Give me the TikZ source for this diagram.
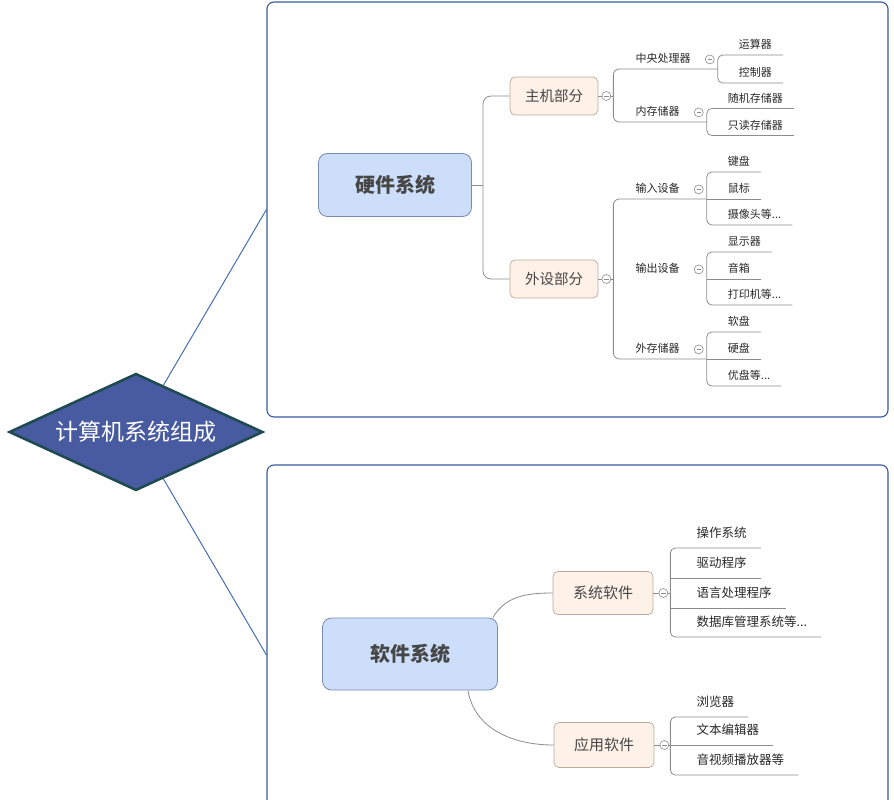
\documentclass[tikz,border=0pt]{standalone}
\usepackage{fontspec}
\setmainfont{Noto Sans CJK SC}
\usetikzlibrary{shapes.geometric}
\definecolor{linkgray}{RGB}{140,140,140}
\definecolor{framecol}{RGB}{55,90,160}
\definecolor{spokecol}{RGB}{70,110,180}
\definecolor{rootfill}{RGB}{72,90,160}
\definecolor{rootline}{RGB}{30,75,80}
\definecolor{sysfill}{RGB}{205,222,250}
\definecolor{sysline}{RGB}{120,140,175}
\definecolor{partfill}{RGB}{253,241,232}
\definecolor{partline}{RGB}{185,170,155}
\definecolor{textcol}{RGB}{40,40,40}
\definecolor{bigtext}{RGB}{70,70,70}

\begin{document}
\begin{tikzpicture}[
  x=1pt, y=-1pt,
  every node/.style={text=textcol},
  root/.style={
    diamond, aspect=2.2, draw=rootline, line width=2.5pt, fill=rootfill,
    text=white, font=\fontsize{23}{26}\selectfont,
    minimum width=254pt, minimum height=117pt, inner sep=0pt
  },
  frame/.style={draw=framecol, line width=1.1pt, rounded corners=7pt, inner sep=0pt},
  sys/.style={
    draw=sysline, line width=0.8pt, fill=sysfill, rounded corners=9pt,
    text=bigtext, font=\fontsize{20}{24}\selectfont\bfseries
  },
  part/.style={
    draw=partline, line width=0.7pt, fill=partfill, rounded corners=5pt,
    text=bigtext, font=\fontsize{14.5}{17}\selectfont
  },
  lbl/.style={
    anchor=south west, inner xsep=0pt, inner ysep=4pt,
    text height=8.8pt, text depth=2pt, font=\fontsize{11}{13}\selectfont
  },
  mid/.style={lbl, execute at begin node={\hspace*{22pt}}, execute at end node={\hspace*{27pt}}},
  leaf/.style={lbl, execute at begin node={\hspace*{21pt}}, execute at end node={\hspace*{11pt}}},
  softleaf/.style={
    anchor=south west, inner xsep=0pt, inner ysep=8pt,
    text height=10pt, text depth=2.4pt, font=\fontsize{12.5}{15}\selectfont,
    execute at begin node={\hspace*{26pt}}, execute at end node={\hspace*{14pt}}
  },
  fold/.style={
    circle, draw=linkgray, fill=white, line width=0.6pt,
    minimum size=9pt, inner sep=0pt,
    path picture={\draw[linkgray, line width=0.6pt]
      ([xshift=-2.2pt]path picture bounding box.center) --
      ([xshift=2.2pt]path picture bounding box.center);}
  },
  link/.style={draw=linkgray, line width=0.8pt},
  spoke/.style={draw=spokecol, line width=1pt},
]
\useasboundingbox (0,0) rectangle (894,800);

% ---- Frames and root ----
\node[frame, minimum width=621pt, minimum height=415pt] (hwframe) at (577.5,209.5) {};
\node[frame, minimum width=621pt, minimum height=380pt] (swframe) at (577.5,655) {};
\node[root] (root) at (136,432) {计算机系统组成};

\draw[spoke] (root) -- (hwframe.west);
\draw[spoke] (root) -- (swframe.west);

% ---- Hardware ----
\node[sys, minimum width=153pt, minimum height=63pt] (hw) at (395,185) {硬件系统};
\node[part, minimum width=88pt, minimum height=38pt] (host)   at (554,96)  {主机部分};
\node[part, minimum width=88pt, minimum height=38pt] (periph) at (554,279) {外设部分};

\node[mid] (cpu)     at ([xshift=15pt, yshift=27pt]host.east)    {中央处理器};
\node[mid] (mem)     at ([xshift=15pt, yshift=-26pt]host.east)   {内存储器};
\node[mid] (input)   at ([xshift=15pt, yshift=80pt]periph.east)  {输入设备};
\node[mid] (output)  at ([xshift=15pt]periph.east)               {输出设备};
\node[mid] (storage) at ([xshift=15pt, yshift=-80pt]periph.east) {外存储器};

\node[leaf] (alu)      at ([yshift=14pt]cpu.south east)     {运算器};
\node[leaf] (ctl)      at ([yshift=-14pt]cpu.south east)    {控制器};
\node[leaf] (ram)      at ([yshift=13.5pt]mem.south east)   {随机存储器};
\node[leaf] (rom)      at ([yshift=-13.5pt]mem.south east)  {只读存储器};
\node[leaf] (keyboard) at ([yshift=27pt]input.south east)   {键盘};
\node[leaf] (mouse)    at (input.south east)                {鼠标};
\node[leaf] (camera)   at ([yshift=-26pt]input.south east)  {摄像头等...};
\node[leaf] (screen)   at ([yshift=27pt]output.south east)  {显示器};
\node[leaf] (speaker)  at (output.south east)               {音箱};
\node[leaf] (printer)  at ([yshift=-26pt]output.south east) {打印机等...};
\node[leaf] (floppy)   at ([yshift=27pt]storage.south east) {软盘};
\node[leaf] (hdd)      at (storage.south east)              {硬盘};
\node[leaf] (udisk)    at ([yshift=-27pt]storage.south east){优盘等...};

\coordinate (hwfork) at (483,185);
\draw[link] (hw.east) -- (hwfork);
\draw[link, rounded corners=8pt] (host.west) -| (hwfork) |- (periph.west);

\draw[link] (host.east) -- (host.east -| cpu.south west);
\draw[link, rounded corners=6pt] (cpu.south east) -- (cpu.south west) |- (mem.south east);
\draw[link] (periph.east) -- (periph.east -| output.south west);
\draw[link, rounded corners=6pt] (input.south east) -- (input.south west) |- (storage.south east);

\foreach \a/\b in {alu/ctl, ram/rom, keyboard/camera, screen/printer, floppy/udisk}
  \draw[link, rounded corners=5pt] (\a.south east) -- (\a.south west) |- (\b.south east);

% ---- Software ----
\node[sys, minimum width=175pt, minimum height=72pt] (sw) at (410,654) {软件系统};
\node[part, font=\fontsize{15}{18}\selectfont, minimum width=100pt, minimum height=43pt] (syssw) at (603,593) {系统软件};
\node[part, font=\fontsize{15}{18}\selectfont, minimum width=100pt, minimum height=45pt] (appsw) at (604,745) {应用软件};

\node[softleaf] (os)      at ([xshift=17pt, yshift=45pt]syssw.east)  {操作系统};
\node[softleaf] (drv)     at ([xshift=17pt, yshift=15pt]syssw.east)  {驱动程序};
\node[softleaf] (lang)    at ([xshift=17pt, yshift=-15pt]syssw.east) {语言处理程序};
\node[softleaf] (db)      at ([xshift=17pt, yshift=-44pt]syssw.east) {数据库管理系统等...};
\node[softleaf] (browser) at ([xshift=16pt, yshift=28pt]appsw.east)  {浏览器};
\node[softleaf] (editor)  at ([xshift=16pt]appsw.east)               {文本编辑器};
\node[softleaf] (player)  at ([xshift=16pt, yshift=-30pt]appsw.east) {音视频播放器等};

\draw[link] ([xshift=-5pt]sw.north east) to[out=60, in=180] (syssw.west);
\draw[link] ([xshift=-30pt]sw.south east) to[out=-80, in=180] (appsw.west);

\draw[link] (syssw.east) -- (syssw.east -| os.south west);
\draw[link] (appsw.east) -- (appsw.east -| browser.south west);
\foreach \a/\b in {os/db, browser/player}
  \draw[link, rounded corners=5pt] (\a.south east) -- (\a.south west) |- (\b.south east);

\foreach \n in {mouse, speaker, hdd, drv, lang, editor}
  \draw[link] (\n.south west) -- (\n.south east);

% ---- Fold markers ----
\foreach \n in {host, periph}
  \node[fold] (fold-\n) at ([xshift=8pt]\n.east) {};
\foreach \n in {syssw, appsw}
  \node[fold] (fold-\n) at ([xshift=10pt]\n.east) {};
\foreach \n in {cpu, mem, input, output, storage}
  \node[fold] (fold-\n) at ([xshift=-8pt]\n.east) {};

\end{tikzpicture}
\end{document}
